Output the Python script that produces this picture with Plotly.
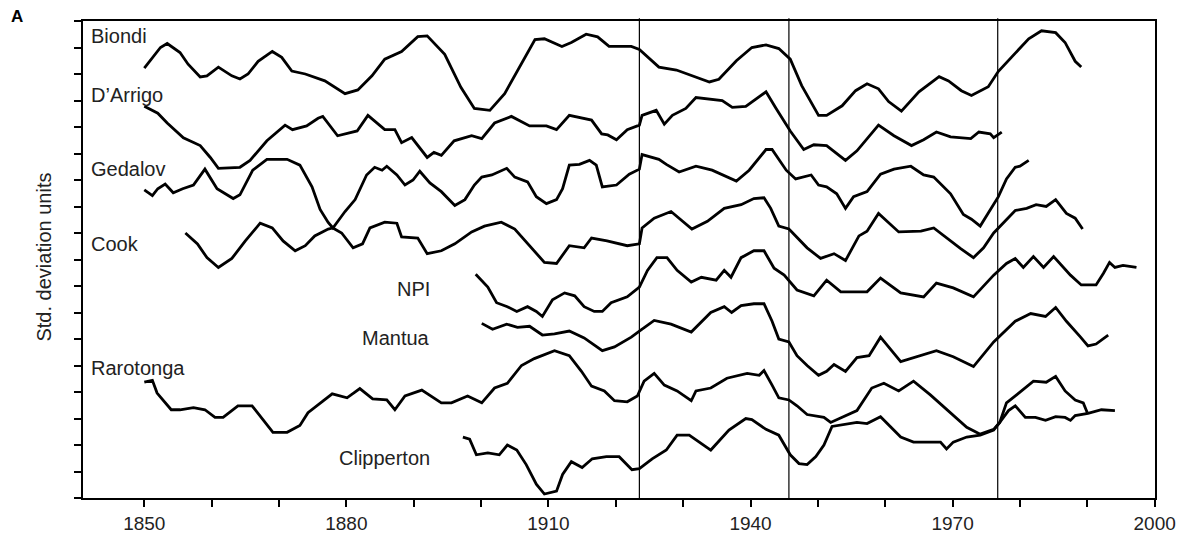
import plotly.graph_objects as go

# ---------------- data (std. deviation anomalies) ----------------
series_names = ["Biondi", "D’Arrigo", "Gedalov", "Cook", "NPI", "Mantua", "Rarotonga", "Clipperton"]
offsets = [16, 14, 12, 10, 8, 6, 4, 2]  # vertical stacking of the records

biondi_years = [1850, 1851.2, 1852.4, 1853.4, 1855.3, 1856.5, 1858.3, 1859.3, 1861.0, 1863.0,
                1864.2, 1865.4, 1866.9, 1869.0, 1870.4, 1871.9, 1873.9, 1876.8, 1879.8, 1881.7,
                1883.8, 1885.7, 1888.2, 1890.6, 1892.0, 1894.6, 1897.0, 1899.0, 1901.3, 1903.5,
                1905.4, 1908.0, 1909.4, 1912.0, 1913.4, 1915.6, 1917.3, 1919.0, 1922.3, 1923.5,
                1926.4, 1929.0, 1933.9, 1935.3, 1937.9, 1940.2, 1942.3, 1944.2, 1945.9, 1947.6,
                1950.1, 1951.3, 1953.6, 1955.6, 1957.3, 1959.0, 1960.5, 1962.4, 1965.0, 1968.0,
                1969.4, 1971.3, 1972.8, 1975.3, 1976.8, 1979.3, 1981.3, 1983.2, 1985.3, 1986.7,
                1988.2, 1989.1]
biondi_values = [0.22, 0.63, 1.0, 1.15, 0.81, 0.37, -0.11, -0.07, 0.26, -0.07,
                 -0.19, 0.0, 0.48, 0.85, 0.63, 0.11, 0.0, -0.26, -0.74, -0.6,
                 -0.07, 0.56, 0.85, 1.41, 1.44, 0.74, -0.5, -1.3, -1.37, -0.74,
                 0.1, 1.3, 1.33, 1.04, 1.19, 1.5, 1.4, 1.04, 1.04, 0.93,
                 0.26, 0.15, -0.3, -0.2, 0.5, 1.0, 1.1, 0.96, 0.56, -0.44,
                 -1.56, -1.56, -1.2, -0.63, -0.37, -0.56, -1.04, -1.4, -0.67, -0.1,
                 -0.26, -0.63, -0.81, -0.48, 0.1, 0.8, 1.33, 1.63, 1.56, 1.19,
                 0.48, 0.26]

darrigo_years = [1850, 1852, 1853.4, 1855.8, 1858.3, 1859.8, 1861, 1864.2, 1865.7, 1868.2,
                 1870.9, 1872, 1874.1, 1875.8, 1876.5, 1878.7, 1881.6, 1883.2, 1885.7, 1887.2,
                 1888.2, 1889.7, 1892, 1893, 1894.1, 1896, 1898.6, 1900.1, 1902, 1904.5,
                 1907.2, 1909.7, 1911.2, 1913.1, 1916.4, 1917.9, 1918.8, 1920.1, 1921.7, 1923.5,
                 1923.9, 1926, 1927.2, 1928.4, 1930.4, 1931.9, 1935.8, 1937.3, 1939.3, 1942.3,
                 1943.8, 1945.9, 1947.9, 1949.4, 1951.3, 1954.1, 1955.8, 1959, 1961.3, 1963.9,
                 1965.7, 1967.6, 1969.7, 1972.7, 1973.9, 1975.6, 1976.1, 1977.3]
darrigo_values = [0.78, 0.52, 0.15, -0.41, -0.7, -1.15, -1.56, -1.52, -1.26, -0.52,
                  0.07, -0.1, 0.04, 0.33, 0.4, -0.33, -0.15, 0.44, -0.1, -0.1,
                  -0.59, -0.4, -1.15, -0.96, -1.07, -0.52, -0.33, -0.44, 0.15, 0.4,
                  0.04, 0.04, -0.1, 0.44, 0.26, -0.26, -0.3, -0.48, -0.1, 0.07,
                  0.44, 0.63, 0.11, 0.44, 0.7, 1.11, 1.0, 0.74, 0.78, 1.33,
                  0.7, -0.15, -0.85, -0.67, -0.7, -1.26, -0.9, 0.07, -0.33, -0.7,
                  -0.48, -0.19, -0.37, -0.44, -0.19, -0.26, -0.4, -0.19]

gedalov_years = [1850, 1851.2, 1852, 1853.1, 1854.3, 1855.7, 1857.3, 1859, 1860.8, 1863.2,
                 1864.2, 1866.1, 1868.2, 1871.2, 1873.1, 1874.9, 1876.1, 1877.3, 1878, 1879.8,
                 1881.3, 1883, 1884.2, 1885.3, 1886, 1887.5, 1888.7, 1889.9, 1890.9, 1892.4,
                 1894.1, 1896.1, 1897.6, 1899, 1900.1, 1901.6, 1903.8, 1905, 1906.9, 1908.2,
                 1909.7, 1911.2, 1912.1, 1913.1, 1914.6, 1916.1, 1917.1, 1918, 1920.1, 1922,
                 1923.5, 1923.9, 1926.4, 1927.5, 1929.4, 1931.9, 1934.3, 1937.9, 1939.8, 1942.3,
                 1943.2, 1945.3, 1946.7, 1949, 1950.1, 1951.3, 1952.8, 1954.1, 1955.3, 1957.3,
                 1959.3, 1961.3, 1963.8, 1965.7, 1967.2, 1969.7, 1971.6, 1972.8, 1974.1, 1976.1,
                 1976.8, 1978, 1979.3, 1980, 1981.3]
gedalov_values = [-0.37, -0.59, -0.33, -0.15, -0.48, -0.33, -0.19, 0.41, -0.33, -0.7,
                  -0.56, 0.37, 0.78, 0.78, 0.56, -0.26, -1.11, -1.6, -1.81, -1.19,
                  -0.74, 0.19, 0.48, 0.37, 0.52, 0.19, -0.19, 0.0, 0.33, -0.11,
                  -0.44, -0.96, -0.74, -0.19, 0.11, 0.19, 0.44, 0.11, -0.07, -0.63,
                  -0.89, -0.74, -0.33, 0.56, 0.59, 0.74, 0.56, -0.26, -0.19, 0.22,
                  0.41, 0.96, 0.78, 0.59, 0.3, 0.52, 0.37, -0.04, 0.37, 1.15,
                  1.15, 0.37, 0.04, 0.19, -0.19, -0.26, -0.52, -1.07, -0.63, -0.44,
                  0.22, 0.41, 0.52, 0.19, 0.11, -0.52, -1.3, -1.48, -1.74, -0.93,
                  -0.63, 0.04, 0.48, 0.52, 0.74]

cook_years = [1856.1, 1857.9, 1859.3, 1861, 1863, 1865, 1867.2, 1869, 1870.6, 1872.4,
              1873.9, 1875.3, 1877.3, 1878, 1879.3, 1881, 1882.4, 1883.5, 1885.7, 1887.5,
              1888.2, 1890.6, 1892, 1894.1, 1896.1, 1898.6, 1900.5, 1903, 1905, 1907.5,
              1909.4, 1911.2, 1913.1, 1915.3, 1916.4, 1918.7, 1921.7, 1923.5, 1923.9, 1925.7,
              1928.2, 1931.3, 1933.6, 1936.1, 1938.6, 1940.5, 1942, 1943, 1944.2, 1945.7,
              1948.4, 1950.4, 1952.4, 1954.1, 1956.1, 1957.3, 1959, 1962, 1965.3, 1967.2,
              1969.1, 1971.2, 1973.1, 1974.6, 1976.1, 1979.3, 1981, 1982.4, 1983.9, 1985.3,
              1986.9, 1988.2, 1989.3]
cook_values = [0.0, -0.41, -0.93, -1.3, -0.96, -0.3, 0.37, 0.19, -0.3, -0.67,
               -0.48, -0.11, 0.15, 0.19, 0.0, -0.56, -0.41, 0.19, 0.41, 0.37,
               -0.15, -0.19, -0.78, -0.67, -0.41, 0.04, 0.26, 0.41, 0.15, -0.56,
               -1.11, -1.15, -0.48, -0.56, -0.19, -0.3, -0.48, -0.41, 0.19, 0.56,
               0.81, 0.15, 0.44, 0.93, 1.07, 1.3, 1.33, 0.93, 0.26, 0.15,
               -0.56, -0.96, -0.78, -1.04, -0.11, 0.07, 0.74, 0.04, 0.07, 0.19,
               -0.19, -0.59, -0.93, -0.56, 0.0, 0.85, 0.93, 1.07, 1.0, 1.26,
               0.74, 0.56, 0.15]

npi_years = [1899.2, 1901, 1902.3, 1903.9, 1905.3, 1906.9, 1908.2, 1909.1, 1910.6, 1912.4,
             1913.9, 1915.3, 1916.8, 1918, 1919.3, 1921.7, 1923.5, 1924.7, 1926.1, 1927.6,
             1929.1, 1931.2, 1932.7, 1934.9, 1936.1, 1937.1, 1938.6, 1940.5, 1942, 1943.5,
             1945, 1946.9, 1949.4, 1951.3, 1953.4, 1957.3, 1959.3, 1962.3, 1965.7, 1967.6,
             1970.1, 1973.1, 1976.1, 1978, 1979.3, 1980.5, 1982, 1983.5, 1985, 1987.5,
             1989.1, 1991.3, 1992.4, 1993.3, 1994.1, 1995.3, 1997.3]
npi_values = [0.44, -0.04, -0.63, -0.78, -0.96, -0.78, -0.96, -1.15, -0.52, -0.26,
              -0.37, -0.78, -0.96, -0.96, -0.63, -0.41, -0.04, 0.59, 1.07, 1.07,
              0.59, 0.15, 0.33, 0.22, 0.59, 0.33, 1.07, 1.33, 1.33, 0.67,
              0.41, -0.15, -0.37, 0.22, -0.22, -0.22, 0.3, -0.26, -0.41, 0.11,
              -0.07, -0.41, 0.41, 0.85, 1.04, 0.7, 1.11, 0.7, 1.11, 0.41,
              0.04, 0.04, 0.48, 0.89, 0.7, 0.78, 0.7]

mantua_years = [1900.1, 1901.7, 1903.8, 1905.4, 1907.2, 1909.1, 1910.9, 1913.1, 1915.3, 1918,
                1919.8, 1922.3, 1923.5, 1925.7, 1928.2, 1931.2, 1934.1, 1936.1, 1937.2, 1938.6,
                1940.5, 1942, 1943.2, 1944.2, 1945.7, 1946.9, 1948.4, 1950.1, 1951.3, 1952.4,
                1954.1, 1955.8, 1957.6, 1959.3, 1962.3, 1964.7, 1967.6, 1970.1, 1973.1, 1976.1,
                1978, 1979.3, 1981.6, 1983.8, 1985.3, 1986.9, 1989, 1990.1, 1991.3, 1993.1]
mantua_values = [0.59, 0.37, 0.56, 0.44, 0.48, 0.15, 0.19, 0.3, 0.04, -0.44,
                 -0.3, 0.07, 0.3, 0.7, 0.56, 0.26, 1.0, 1.22, 1.0, 1.26,
                 1.33, 1.33, 0.67, 0.0, -0.11, -0.63, -1.0, -1.37, -1.22, -0.96,
                 -1.22, -0.7, -0.63, 0.07, -0.85, -0.67, -0.44, -0.67, -1.04, -0.11,
                 0.37, 0.67, 0.96, 0.85, 1.19, 0.67, 0.07, -0.26, -0.19, 0.15]

rarotonga_years = [1850, 1851.2, 1851.9, 1852.8, 1854, 1855.3, 1857.3, 1859, 1860.5, 1861.7,
                   1863.9, 1866, 1867.6, 1869.1, 1871.2, 1873.1, 1874.3, 1876.5, 1877.9, 1880.1,
                   1882, 1883.9, 1886, 1887.2, 1888.7, 1891.2, 1894.1, 1895.6, 1898, 1900.1,
                   1902, 1903.9, 1906, 1907.9, 1910.9, 1913.1, 1914.9, 1916.4, 1918.3, 1919.8,
                   1921.7, 1923.2, 1924.2, 1925.7, 1927.2, 1929.1, 1931.2, 1931.9, 1934.1, 1936.5,
                   1939.5, 1941.3, 1942, 1943.2, 1944.2, 1945.7, 1946.9, 1948.4, 1950.9, 1951.9,
                   1954.3, 1955.8, 1958, 1959.8, 1962, 1964.2, 1966.7, 1969.7, 1972.1, 1974.1,
                   1976.1, 1977, 1978, 1979.5, 1982, 1983.9, 1985.3, 1986.7, 1988.2, 1989.4,
                   1990]
rarotonga_values = [0.37, 0.44, -0.04, -0.3, -0.67, -0.67, -0.59, -0.67, -0.96, -0.96,
                    -0.52, -0.52, -1.04, -1.52, -1.52, -1.26, -0.78, -0.33, -0.07, -0.22,
                    0.13, -0.26, -0.3, -0.67, -0.15, 0.07, -0.41, -0.41, -0.15, -0.41,
                    0.15, 0.33, 1.0, 1.26, 1.56, 1.37, 0.78, 0.22, 0.04, -0.33,
                    -0.37, -0.15, 0.41, 0.7, 0.26, 0.04, -0.33, 0.04, 0.15, 0.52,
                    0.7, 0.63, 0.81, 0.26, -0.22, -0.3, -0.52, -0.85, -0.96, -1.15,
                    -0.89, -0.7, 0.15, 0.33, 0.04, 0.41, -0.11, -0.78, -1.33, -1.59,
                    -1.41, -1.15, -0.41, -0.11, 0.41, 0.37, 0.59, 0.04, -0.3, -0.41,
                    -0.78]

clipperton_years = [1897.3, 1898.3, 1899.3, 1901, 1902.7, 1903.9, 1905.3, 1906.7, 1908.2, 1909.4,
                    1911.2, 1912.1, 1913.4, 1915, 1916.5, 1918.6, 1920.5, 1922.4, 1923.5, 1925.4,
                    1927.5, 1929.1, 1930.9, 1934.1, 1936.8, 1939.3, 1940.2, 1942.3, 1944.2, 1945.9,
                    1947.2, 1948.4, 1949.7, 1950.9, 1952.1, 1954.3, 1955.8, 1957.3, 1959.3, 1962.3,
                    1964.2, 1968.2, 1969.1, 1970.1, 1972.1, 1974.1, 1976.1, 1977, 1978.3, 1979.3,
                    1980.8, 1982.3, 1983.8, 1985.3, 1986.7, 1987.5, 1988.2, 1990.1, 1992.1, 1994.1]
clipperton_values = [0.3, 0.22, -0.37, -0.3, -0.37, 0.0, -0.19, -0.74, -1.48, -1.85,
                     -1.74, -1.11, -0.63, -0.85, -0.52, -0.44, -0.44, -0.93, -0.89, -0.52,
                     -0.19, 0.37, 0.37, -0.19, 0.56, 1.0, 0.96, 0.59, 0.37, -0.37,
                     -0.7, -0.74, -0.44, 0.0, 0.7, 0.78, 0.85, 0.81, 1.07, 0.3,
                     0.11, 0.11, -0.15, 0.11, 0.3, 0.37, 0.56, 0.85, 1.3, 1.48,
                     1.04, 1.04, 0.93, 1.07, 1.04, 0.93, 1.11, 1.19, 1.33, 1.3]

regime_shift_years = [1923.5, 1945.7, 1976.7]
x_tick_years = [1850, 1860, 1870, 1880, 1890, 1900, 1910, 1920, 1930, 1940, 1950, 1960, 1970, 1980, 1990, 2000]
x_tick_labels = ["1850", "", "", "1880", "", "", "1910", "", "", "1940", "", "", "1970", "", "", "2000"]
y_tick_values = list(range(0, 19))

all_years = [biondi_years, darrigo_years, gedalov_years, cook_years,
             npi_years, mantua_years, rarotonga_years, clipperton_years]
all_values = [biondi_values, darrigo_values, gedalov_values, cook_values,
              npi_values, mantua_values, rarotonga_values, clipperton_values]

# ---------------- figure ----------------
FONT = "Liberation Sans, Arial, Helvetica, sans-serif"
fig = go.Figure()

for name, yrs, vals, off in zip(series_names, all_years, all_values, offsets):
    fig.add_trace(go.Scatter(
        x=yrs, y=[v + off for v in vals], mode="lines", name=name,
        line=dict(color="black", width=2.8), showlegend=False,
        hoverinfo="skip"))

for yr in regime_shift_years:
    fig.add_shape(type="line", xref="x", yref="paper", x0=yr, x1=yr, y0=0, y1=1.006,
                  line=dict(color="black", width=1.2), layer="above")

# series labels: (text, x, y, anchor)
label_specs = [
    (series_names[0], 1841.8, 17.42, "left"),
    (series_names[1], 1841.8, 15.2, "left"),
    (series_names[2], 1841.8, 12.42, "left"),
    (series_names[3], 1841.8, 9.6, "left"),
    (series_names[4], 1892.7, 7.9, "right"),
    (series_names[5], 1892.7, 6.02, "right"),
    (series_names[6], 1841.8, 4.9, "left"),
    (series_names[7], 1892.7, 1.5, "right"),
]
for text, x, y, anchor in label_specs:
    fig.add_annotation(x=x, y=y, xref="x", yref="y", text=text, showarrow=False,
                       xanchor=anchor, yanchor="middle",
                       font=dict(family=FONT, size=20, color="#222222"))

fig.add_annotation(x=-0.036, y=0.505, xref="paper", yref="paper", text="Std. deviation units",
                   textangle=-90, showarrow=False, xanchor="center", yanchor="middle",
                   font=dict(family=FONT, size=20, color="#222222"))
fig.add_annotation(x=-0.062, y=1.01, xref="paper", yref="paper", text="<b>A</b>",
                   showarrow=False, xanchor="center", yanchor="middle",
                   font=dict(family=FONT, size=17, color="black"))

fig.update_layout(
    width=1188, height=546,
    margin=dict(l=83, r=30, t=21, b=39),
    paper_bgcolor="white", plot_bgcolor="white",
    hovermode=False,
    font=dict(family=FONT, color="#222222"),
    xaxis=dict(range=[1840.9, 2000.05], tickmode="array", tickvals=x_tick_years,
               ticktext=x_tick_labels, ticks="outside", ticklen=7, tickwidth=2,
               tickcolor="black", showline=True, linecolor="black", linewidth=2,
               mirror=True, showgrid=False, zeroline=False,
               tickfont=dict(family=FONT, size=19, color="#222222")),
    yaxis=dict(range=[0, 18], tickmode="array", tickvals=y_tick_values,
               showticklabels=False, ticks="outside", ticklen=7, tickwidth=2,
               tickcolor="black", showline=True, linecolor="black", linewidth=2,
               mirror=True, showgrid=False, zeroline=False),
)

fig.write_html("out.html",
               config={"displayModeBar": False, "staticPlot": True},
               post_script="document.body.style.margin='0px';document.body.style.padding='0px';")
